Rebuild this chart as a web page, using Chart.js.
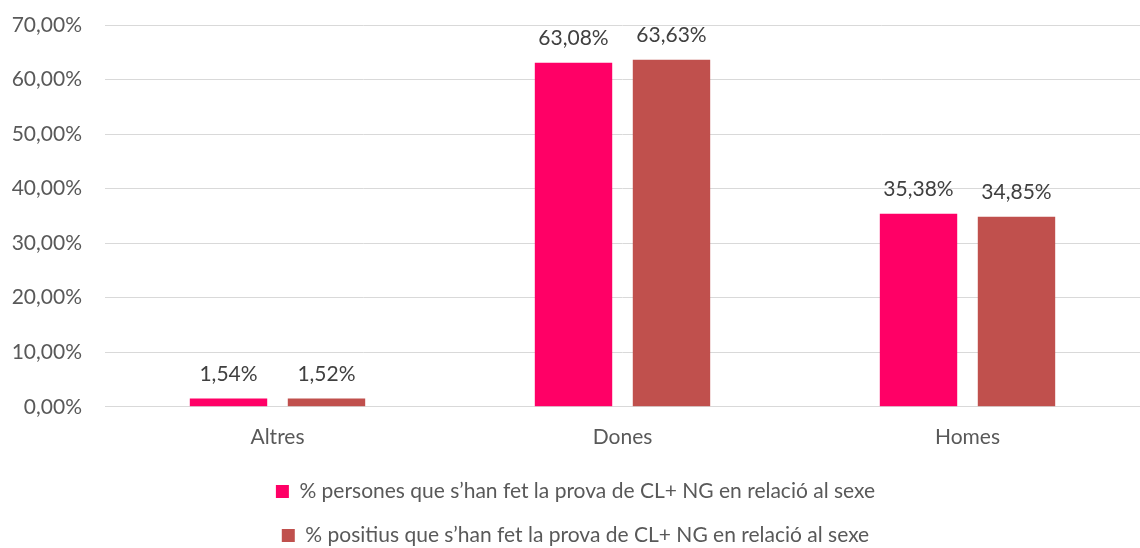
<!DOCTYPE html>
<html>
<head>
<meta charset="utf-8">
<script src="https://cdn.jsdelivr.net/npm/chart.js@4"></script>
<style>
  html, body { margin: 0; padding: 0; background: #fff; }
  #wrap { width: 1140px; height: 548px; }
</style>
</head>
<body>
<div id="wrap"><canvas id="chart" width="1140" height="548"></canvas></div>
<script>
// Dades del gràfic
const categories = ['Altres', 'Dones', 'Homes'];
const persones = [1.54, 63.08, 35.38];
const positius = [1.52, 63.63, 34.85];
const seriesLabels = [
  '% persones que s\u2019han fet la prova de CL+ NG en relació al sexe',
  '% positius que s\u2019han fet la prova de CL+ NG en relació al sexe'
];
const yTicks = [0, 10, 20, 30, 40, 50, 60, 70];

const FONT = 'Lato, "Open Sans", sans-serif';

function fmt(v) {
  return v.toFixed(2).replace('.', ',') + '%';
}

// Etiquetes de valor damunt de cada barra
const valueLabels = {
  id: 'valueLabels',
  afterDatasetsDraw(chart) {
    const ctx = chart.ctx;
    ctx.save();
    ctx.font = '21px ' + FONT;
    ctx.fillStyle = '#404040';
    ctx.textAlign = 'center';
    ctx.textBaseline = 'bottom';
    chart.data.datasets.forEach((ds, i) => {
      const meta = chart.getDatasetMeta(i);
      meta.data.forEach((bar, j) => {
        ctx.fillText(fmt(ds.data[j]), bar.x, bar.y - 14);
      });
    });
    ctx.restore();
  }
};

new Chart(document.getElementById('chart').getContext('2d'), {
  type: 'bar',
  data: {
    labels: categories,
    datasets: [
      { label: seriesLabels[0], data: persones, backgroundColor: '#FF0066' },
      { label: seriesLabels[1], data: positius, backgroundColor: '#C0504D' }
    ]
  },
  options: {
    responsive: false,
    animation: false,
    layout: { padding: { left: 0, right: -11, top: 25, bottom: -8 } },
    datasets: {
      bar: { categoryPercentage: 0.568, barPercentage: 0.79 }
    },
    scales: {
      x: {
        grid: { display: false },
        border: { color: '#D9D9D9', width: 1 },
        ticks: { color: '#595959', font: { family: FONT, size: 21 }, padding: 10 },
        afterFit(axis) {
          axis.height -= 2;
        }
      },
      y: {
        min: 0,
        max: 70,
        afterBuildTicks(axis) {
          axis.ticks = yTicks.map(v => ({ value: v }));
        },
        afterFit(axis) {
          axis.width = 105;
          axis.paddingTop = 0;
        },
        grid: { color: '#D9D9D9', lineWidth: 1, drawTicks: false },
        border: { display: false },
        ticks: {
          color: '#595959',
          font: { family: FONT, size: 21 },
          padding: 23,
          callback: v => fmt(v)
        }
      }
    },
    plugins: {
      legend: {
        position: 'bottom',
        labels: {
          color: '#595959',
          font: { family: FONT, size: 21 },
          boxWidth: 13,
          boxHeight: 13,
          padding: 23
        }
      },
      tooltip: { enabled: false }
    }
  },
  plugins: [valueLabels]
});
</script>
</body>
</html>
